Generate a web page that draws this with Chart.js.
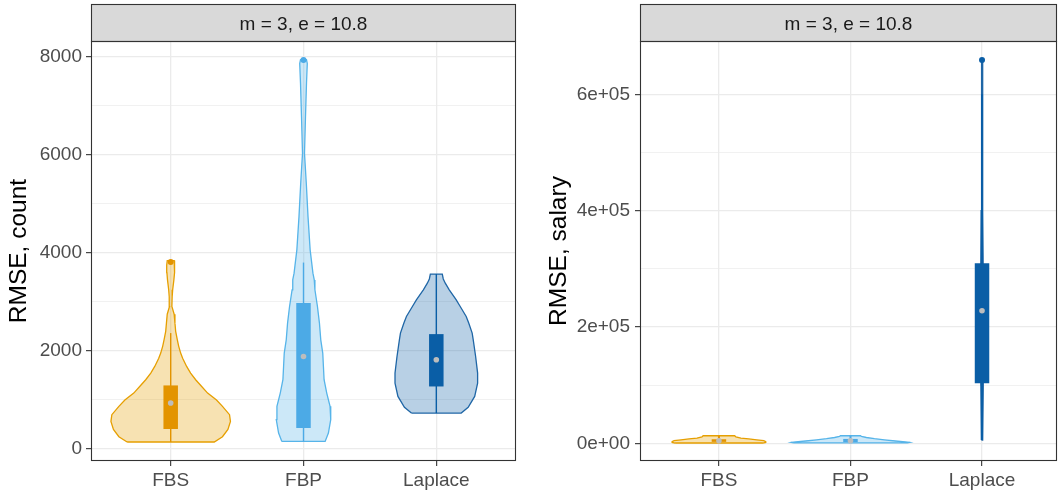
<!DOCTYPE html>
<html><head><meta charset="utf-8">
<script src="https://cdn.jsdelivr.net/npm/chart.js@4.4.1/dist/chart.umd.min.js"></script>
<style>
html,body{margin:0;padding:0;background:#fff;width:1061px;height:498px;overflow:hidden}
#c1{position:absolute;left:0;top:0}
#c2{position:absolute;left:530px;top:0}
</style></head><body>
<canvas id="c1" width="530" height="498"></canvas>
<canvas id="c2" width="531" height="498"></canvas>
<script>
const categories = ['FBS', 'FBP', 'Laplace'];
const stripLabel = 'm = 3, e = 10.8';

// ---- Panel 1: RMSE, count ----
const countMajorTicks = [0, 2000, 4000, 6000, 8000];
const countTickLabels = ['0', '2000', '4000', '6000', '8000'];
const countMinorTicks = [1000, 3000, 5000, 7000];
// violin outlines: value levels and half-widths (category units)
const countFbsLevels = [143, 250, 400, 560, 700, 870, 1000, 1141, 1300, 1413, 1550, 1685, 1850, 1957, 2100, 2228, 2400, 2569, 2750, 2907, 3100, 3250, 3450, 3600, 3750, 3845];
const countFbsWidths = [.328, .39, .431, .45, .443, .39, .345, .278, .225, .188, .15, .12, .09, .075, .06, .05, .0375, .032, .026, .009, .011, .015, .024, .0285, .03, .026];
const countFbpLevels = [155, 326, 600, 870, 1141, 1413, 1685, 1957, 2228, 2569, 2907, 3248, 3450, 3587, 4063, 4742, 5421, 6032, 6779, 7458, 7866, 7947];
const countFbpWidths = [.163, .1875, .205, .2, .175, .155, .15, .145, .13, .12, .105, .086, .081, .071, .05, .034, .021, .0075, .015, .0225, .0285, .0225];
const countLapLevels = [733, 850, 1073, 1345, 1549, 1888, 2228, 2364, 2569, 2703, 2907, 3043, 3248, 3383, 3470, 3570];
const countLapWidths = [.1875, .24, .289, .311, .311, .296, .278, .27, .244, .225, .18, .15, .0975, .0675, .0525, .045];
// box summaries per category
const countLower = [143, 155, 733];
const countQ1 = [408, 428, 1276];
const countMedian = [937, 1888, 1821];
const countQ3 = [1297, 2977, 2344];
const countUpper = [2365, 3804, 3570];
const countOutliers = [[3817], [7937], []];

// ---- Panel 2: RMSE, salary ----
const salaryMajorTicks = [0, 200000, 400000, 600000];
const salaryTickLabels = ['0e+00', '2e+05', '4e+05', '6e+05'];
const salaryMinorTicks = [100000, 300000, 500000];
const salaryFbsLevels = [500, 1500, 3000, 4500, 6000, 7500, 9000, 11000, 13000];
const salaryFbsWidths = [.333, .356, .356, .341, .288, .227, .167, .129, .12];
const salaryFbpLevels = [700, 1500, 2500, 4000, 6000, 8000, 10000, 12000, 13000];
const salaryFbpWidths = [.432, .45, .417, .341, .258, .182, .121, .083, .076];
const salaryLapLevels = [5700, 100000, 200000, 300000, 400000, 500000, 600000, 659000];
const salaryLapWidths = [.005, .009, .01, .009, .007, .005, .003, .002];
const salaryLower = [600, 700, 5700];
const salaryQ1 = [2500, 2000, 103200];
const salaryMedian = [4500, 4500, 228000];
const salaryQ3 = [7000, 7500, 309500];
const salaryUpper = [13000, 13000, 600000];
const salaryOutliers = [[], [], [659000]];

// ---- styles ----
const lineColors = ['#E69F00', '#56B4E9', '#1F66A6'];
const fillColors = ['rgba(230,159,0,0.3)', 'rgba(86,180,233,0.3)', 'rgba(20,100,170,0.3)'];
const boxColors = ['#E39400', '#4CAAE6', '#0A5EA6'];
const FONT = '"Liberation Sans", Arial, Helvetica, sans-serif';

function violinPoints(center, levels, widths) {
  const pts = [];
  for (let k = 0; k < levels.length; k++) pts.push({x: center - widths[k], y: levels[k]});
  for (let k = levels.length - 1; k >= 0; k--) pts.push({x: center + widths[k], y: levels[k]});
  pts.push({x: center - widths[0], y: levels[0]});
  return pts;
}

function buildDatasets(violins, lower, q1, med, q3, upper, outliers, whiskerWidth) {
  const ds = [];
  violins.forEach((v, i) => {
    const c = i + 1;
    ds.push({data: violinPoints(c, v[0], v[1]), showLine: true, fill: 'shape',
      borderColor: lineColors[i], backgroundColor: fillColors[i], borderWidth: 1.3,
      pointRadius: 0, tension: 0, order: 5});
    ds.push({data: [{x: c, y: lower[i]}, {x: c, y: upper[i]}], showLine: true, fill: false,
      borderColor: boxColors[i], borderWidth: whiskerWidth, pointRadius: 0, order: 4});
    ds.push({data: [{x: c, y: q1[i]}, {x: c, y: q3[i]}], showLine: true, fill: false,
      borderColor: boxColors[i], borderWidth: 14.5, borderCapStyle: 'butt', pointRadius: 0, order: 3});
    ds.push({data: [{x: c, y: med[i]}], showLine: false, pointRadius: 2.8,
      pointBackgroundColor: '#BDBDBD', pointBorderWidth: 0, order: 2});
    ds.push({data: outliers[i].map(v => ({x: c, y: v})), showLine: false, pointRadius: 3,
      pointBackgroundColor: boxColors[i], pointBorderWidth: 0, order: 1});
  });
  return ds;
}

const panelPlugin = {
  id: 'panelDeco',
  afterDraw(chart) {
    const {ctx, chartArea: {left, right, top, bottom}} = chart;
    ctx.save();
    ctx.fillStyle = '#D9D9D9';
    ctx.fillRect(left, 4, right - left, top - 4);
    ctx.strokeStyle = '#333333';
    ctx.lineWidth = 1.1;
    ctx.strokeRect(left + 0.5, 4.5, right - left - 1, top - 4);
    ctx.strokeRect(left + 0.5, top + 0.5, right - left - 1, bottom - top - 1);
    ctx.fillStyle = '#1A1A1A';
    ctx.font = '19px ' + FONT;
    ctx.textAlign = 'center';
    ctx.textBaseline = 'middle';
    ctx.fillText(stripLabel, (left + right) / 2, (4 + top) / 2 + 2.5);
    ctx.restore();
  }
};

function makeChart(id, cfg) {
  const major = cfg.major;
  return new Chart(document.getElementById(id), {
    type: 'scatter',
    data: {datasets: cfg.datasets},
    plugins: [panelPlugin],
    options: {
      responsive: false, animation: false, devicePixelRatio: 1,
      layout: {padding: {top: 41, right: cfg.rightPad, left: 0, bottom: 0}},
      plugins: {legend: {display: false}, tooltip: {enabled: false}},
      scales: {
        x: {
          type: 'linear', min: 0.4, max: cfg.xMax,
          afterBuildTicks: s => { s.ticks = categories.map((c, i) => ({value: i + 1})); },
          afterFit: s => { s.height = 37; },
          ticks: {callback: v => categories[v - 1] ?? '', color: '#4D4D4D',
            font: {family: FONT, size: 19}, padding: 3, maxRotation: 0, autoSkip: false},
          grid: {color: '#EBEBEB', lineWidth: 1.3, tickColor: '#333333', tickLength: 5, tickWidth: 1.1},
          border: {display: false}
        },
        y: {
          type: 'linear', min: cfg.yMin, max: cfg.yMax,
          afterBuildTicks: s => {
            s.ticks = major.concat(cfg.minor).sort((a, b) => a - b).map(v => ({value: v}));
          },
          afterFit: s => { s.width = cfg.yWidth; },
          ticks: {callback: v => { const k = major.indexOf(v); return k >= 0 ? cfg.labels[k] : ''; },
            color: '#4D4D4D', font: {family: FONT, size: 19}, padding: cfg.yPad, autoSkip: false},
          grid: {
            color: '#EBEBEB',
            lineWidth: c => major.includes(c.tick.value) ? 1.3 : 0.7,
            tickColor: c => major.includes(c.tick.value) ? '#333333' : 'rgba(0,0,0,0)',
            tickLength: 5, tickWidth: 1.1
          },
          border: {display: false},
          title: {display: true, text: cfg.title, color: '#000000',
            font: {family: FONT, size: 24.5, lineHeight: 1}, padding: {top: cfg.titlePad, bottom: 0}}
        }
      }
    }
  });
}

makeChart('c1', {
  datasets: buildDatasets(
    [[countFbsLevels, countFbsWidths], [countFbpLevels, countFbpWidths], [countLapLevels, countLapWidths]],
    countLower, countQ1, countMedian, countQ3, countUpper, countOutliers, 1.4),
  major: countMajorTicks, minor: countMinorTicks, labels: countTickLabels,
  yMin: -245, yMax: 8325, xMax: 3.6, yWidth: 91, rightPad: 14, yPad: 4, titlePad: 7,
  title: 'RMSE, count'
});

makeChart('c2', {
  datasets: buildDatasets(
    [[salaryFbsLevels, salaryFbsWidths], [salaryFbpLevels, salaryFbpWidths], [salaryLapLevels, salaryLapWidths]],
    salaryLower, salaryQ1, salaryMedian, salaryQ3, salaryUpper, salaryOutliers, 2),
  major: salaryMajorTicks, minor: salaryMinorTicks, labels: salaryTickLabels,
  yMin: -30400, yMax: 691600, xMax: 3.57, yWidth: 110, rightPad: 1, yPad: 5, titlePad: 17,
  title: 'RMSE, salary'
});
</script>
</body></html>
